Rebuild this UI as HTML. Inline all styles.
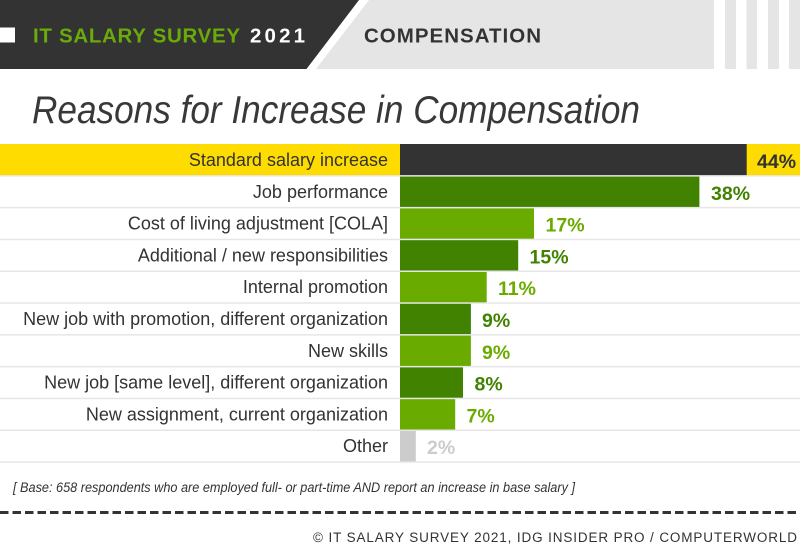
<!DOCTYPE html>
<html><head><meta charset="utf-8"><style>
html,body{margin:0;padding:0;background:#fff;}
svg{display:block;}
</style></head><body>
<svg width="800" height="555" viewBox="0 0 800 555" xmlns="http://www.w3.org/2000/svg" font-family="'Liberation Sans', sans-serif">
<rect x="0" y="0" width="800" height="555" fill="#fff"/>
<!-- header -->
<polygon points="0,0 359,0 306.5,69 0,69" fill="#333333"/>
<polygon points="369,0 714,0 714,69 316,69" fill="#e5e5e5"/>
<rect x="725" y="0" width="11" height="69" fill="#e5e5e5"/>
<rect x="746.5" y="0" width="10.5" height="69" fill="#e5e5e5"/>
<rect x="768" y="0" width="11" height="69" fill="#e5e5e5"/>
<rect x="789" y="0" width="11" height="69" fill="#e5e5e5"/>
<rect x="0" y="27.5" width="15" height="15" fill="#ffffff"/>
<text x="33" y="42.3" font-size="20.5" font-weight="bold" fill="#6aab0a" textLength="207" lengthAdjust="spacing">IT SALARY SURVEY</text>
<text x="250" y="42.3" font-size="20.5" font-weight="bold" fill="#ffffff" textLength="55" lengthAdjust="spacing">2021</text>
<text x="364" y="42.3" font-size="20.5" font-weight="bold" fill="#333333" textLength="177" lengthAdjust="spacing">COMPENSATION</text>
<!-- title -->
<text x="32" y="123" font-size="39" font-style="italic" fill="#383838" textLength="608" lengthAdjust="spacingAndGlyphs">Reasons for Increase in Compensation</text>

<!-- rows -->
<rect x="0" y="144" width="800" height="31.8" fill="#ffdc00"/>
<g>
<rect x="400" y="144" width="346.7" height="31.8" fill="#333333"/>
<rect x="400" y="175.8" width="299.4" height="31.8" fill="#418300"/>
<rect x="400" y="207.6" width="134" height="31.8" fill="#6aab00"/>
<rect x="400" y="239.4" width="118.2" height="31.8" fill="#418300"/>
<rect x="400" y="271.2" width="86.7" height="31.8" fill="#6aab00"/>
<rect x="400" y="303" width="70.9" height="31.8" fill="#418300"/>
<rect x="400" y="334.8" width="70.9" height="31.8" fill="#6aab00"/>
<rect x="400" y="366.6" width="63" height="31.8" fill="#418300"/>
<rect x="400" y="398.4" width="55.2" height="31.8" fill="#6aab00"/>
<rect x="400" y="430.2" width="15.8" height="31.8" fill="#cccccc"/>
</g>
<g fill="#e6e6e6">
<rect x="0" y="175.1" width="800" height="1.5"/>
<rect x="0" y="206.9" width="800" height="1.5"/>
<rect x="0" y="238.7" width="800" height="1.5"/>
<rect x="0" y="270.5" width="800" height="1.5"/>
<rect x="0" y="302.3" width="800" height="1.5"/>
<rect x="0" y="334.1" width="800" height="1.5"/>
<rect x="0" y="365.9" width="800" height="1.5"/>
<rect x="0" y="397.7" width="800" height="1.5"/>
<rect x="0" y="429.5" width="800" height="1.5"/>
<rect x="0" y="461.3" width="800" height="1.5"/>
</g>
<g font-size="18" fill="#333333" text-anchor="end">
<text x="388" y="166">Standard salary increase</text>
<text x="388" y="197.8">Job performance</text>
<text x="388" y="229.6">Cost of living adjustment [COLA]</text>
<text x="388" y="261.4">Additional / new responsibilities</text>
<text x="388" y="293.2">Internal promotion</text>
<text x="388" y="325">New job with promotion, different organization</text>
<text x="388" y="356.8">New skills</text>
<text x="388" y="388.6">New job [same level], different organization</text>
<text x="388" y="420.4">New assignment, current organization</text>
<text x="388" y="452.2">Other</text>
</g>
<g font-size="19.5" font-weight="bold">
<text x="757" y="168" fill="#333333">44%</text>
<text x="711" y="199.8" fill="#418300">38%</text>
<text x="545.5" y="231.6" fill="#6aab00">17%</text>
<text x="529.5" y="263.4" fill="#418300">15%</text>
<text x="498" y="295.2" fill="#6aab00">11%</text>
<text x="482" y="327" fill="#418300">9%</text>
<text x="482" y="358.8" fill="#6aab00">9%</text>
<text x="474.5" y="390.6" fill="#418300">8%</text>
<text x="466.5" y="422.4" fill="#6aab00">7%</text>
<text x="427" y="454.2" fill="#cccccc">2%</text>
</g>

<!-- footnote -->
<text x="13" y="492" font-size="13.5" font-style="italic" fill="#333333" textLength="562" lengthAdjust="spacingAndGlyphs">[ Base: 658 respondents who are employed full- or part-time AND report an increase in base salary ]</text>
<line x1="0" y1="512.5" x2="800" y2="512.5" stroke="#333333" stroke-width="3" stroke-dasharray="8.5 4"/>
<text x="313" y="542" font-size="13.5" fill="#333333" textLength="484" lengthAdjust="spacing">© IT SALARY SURVEY 2021, IDG INSIDER PRO / COMPUTERWORLD</text>
</svg>
</body></html>
